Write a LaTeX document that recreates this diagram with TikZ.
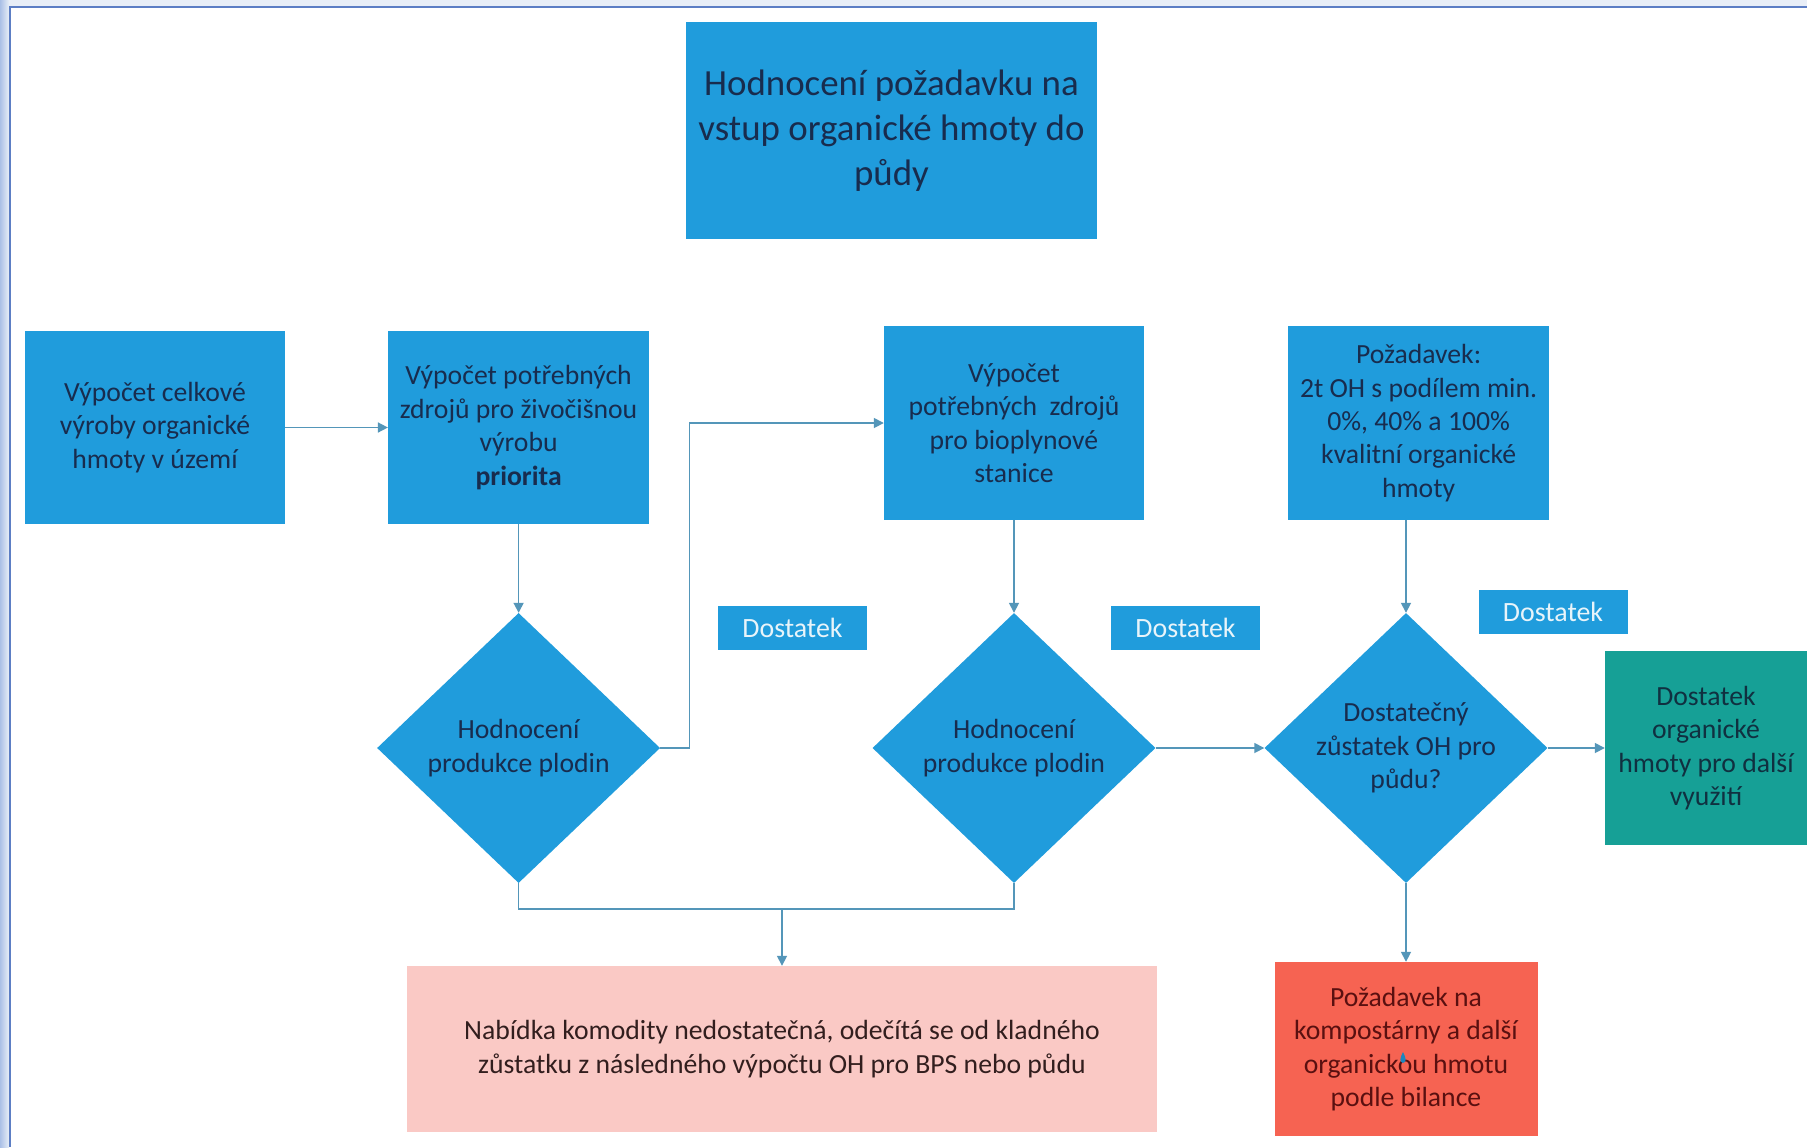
\documentclass[tikz,border=0pt]{standalone}
\usepackage{fontspec}
\setmainfont{Carlito}
\usetikzlibrary{shapes.geometric,arrows.meta,calc}
\definecolor{boxblue}{RGB}{32,156,220}
\definecolor{navy}{RGB}{24,44,78}
\definecolor{linec}{RGB}{84,150,185}
\definecolor{teal}{RGB}{22,160,150}
\definecolor{pink}{RGB}{250,201,197}
\definecolor{redbox}{RGB}{246,99,82}
\definecolor{framec}{RGB}{92,126,196}
\definecolor{outside}{RGB}{232,238,247}
\tikzset{
  x=1bp, y=-1bp,
  base/.style={inner sep=2bp, align=center, font=\fontsize{27.8}{33.5}\selectfont, text=navy},
  bluebox/.style={base, rectangle, fill=boxblue},
  decision/.style={base, diamond, fill=boxblue, inner sep=0pt},
  tag/.style={rectangle, fill=boxblue, inner sep=0pt, minimum width=149bp, minimum height=44bp,
    font=\fontsize{28}{30}\selectfont, text={rgb,255:red,232;green,244;blue,250}},
  conn/.style={draw=linec, line width=1.6bp},
  arr/.style={conn, -{Triangle[length=10bp,width=10bp]}},
}
\begin{document}
\begin{tikzpicture}
\useasboundingbox (0,0) rectangle (1807,1147);
% frame
\fill[outside] (0,0) rectangle (1807,6);
\fill[left color={rgb,255:red,170;green,192;blue,230}, right color=outside] (0,0) rectangle (9,1147);
\fill[white] (11,8) rectangle (1807,1147);
\draw[framec, line width=2.5bp] (10,1147) -- (10,7) -- (1807,7);

% nodes
\node[bluebox, minimum width=411bp, minimum height=217bp, font=\fontsize{37}{45}\selectfont] (title) at (891.5,130.5)
  {Hodnocení požadavku na\\vstup organické hmoty do\\půdy};
\node[bluebox, minimum width=260bp, minimum height=193bp] (b1) at (155,427.5)
  {Výpočet celkové\\výroby organické\\hmoty v území};
\node[bluebox, minimum width=261bp, minimum height=193bp] (b2) at (518.6,427.5)
  {Výpočet potřebných\\zdrojů pro živočišnou\\výrobu\\\textbf{priorita}};
\node[bluebox, minimum width=260bp, minimum height=194bp] (b3) at (1014,423)
  {Výpočet\\potřebných\ \ zdrojů\\pro bioplynové\\stanice};
\node[bluebox, minimum width=261bp, minimum height=194bp] (b4) at (1418.6,423)
  {Požadavek:\\2t OH s podílem min.\\0\%, 40\% a 100\%\\kvalitní organické\\hmoty};

\node[decision, minimum width=283bp, minimum height=270bp] (d1) at (518.6,748)
  {Hodnocení\\produkce plodin};
\node[decision, minimum width=283bp, minimum height=270bp] (d2) at (1014,748)
  {Hodnocení\\produkce plodin};
\node[decision, minimum width=283bp, minimum height=270bp] (d3) at (1406,748)
  {Dostatečný\\zůstatek OH pro\\půdu?};

\node[tag] (t1) at (792.5,628) {Dostatek};
\node[tag] (t2) at (1185.5,628) {Dostatek};
\node[tag] (t3) at (1553,612) {Dostatek};

\node[base, rectangle, fill=teal, minimum width=202bp, minimum height=194bp, text={rgb,255:red,16;green,48;blue,64}] (g) at (1706,748)
  {Dostatek\\organické\\hmoty pro další\\využití};
\node[base, rectangle, fill=pink, minimum width=750bp, minimum height=166bp, text={rgb,255:red,50;green,30;blue,30}] (p) at (782,1049)
  {Nabídka komodity nedostatečná, odečítá se od kladného\\zůstatku z následného výpočtu OH pro BPS nebo půdu};
\node[base, rectangle, fill=redbox, minimum width=263bp, minimum height=174bp, text={rgb,255:red,90;green,16;blue,16}] (r) at (1406,1049)
  {Požadavek na\\kompostárny a další\\organickou hmotu\\podle bilance};

% connectors
\draw[arr] (b1.east) -- (b2.west);
\draw[arr] (b2.south) -- (d1.north);
\draw[arr] (d1.east) -- ++(29,0) |- (b3.west);
\draw[arr] (b3.south) -- (d2.north);
\draw[arr] (d2.east) -- (d3.west);
\draw[arr] (b4.south -| d3.north) -- (d3.north);
\draw[arr] (d3.east) -- (g.west);
\draw[arr] (d3.south) -- (r.north);
\coordinate (j) at (782,909);
\draw[conn] (d1.south) |- (j) -| (d2.south);
\draw[arr] (j) -- (p.north);
% stray mark
\fill[boxblue!80!black!70!boxblue] (1403,1052) .. controls (1406,1058) and (1407,1062) .. (1403,1063) .. controls (1399,1062) and (1400,1058) .. (1403,1052) -- cycle;
\end{tikzpicture}
\end{document}
